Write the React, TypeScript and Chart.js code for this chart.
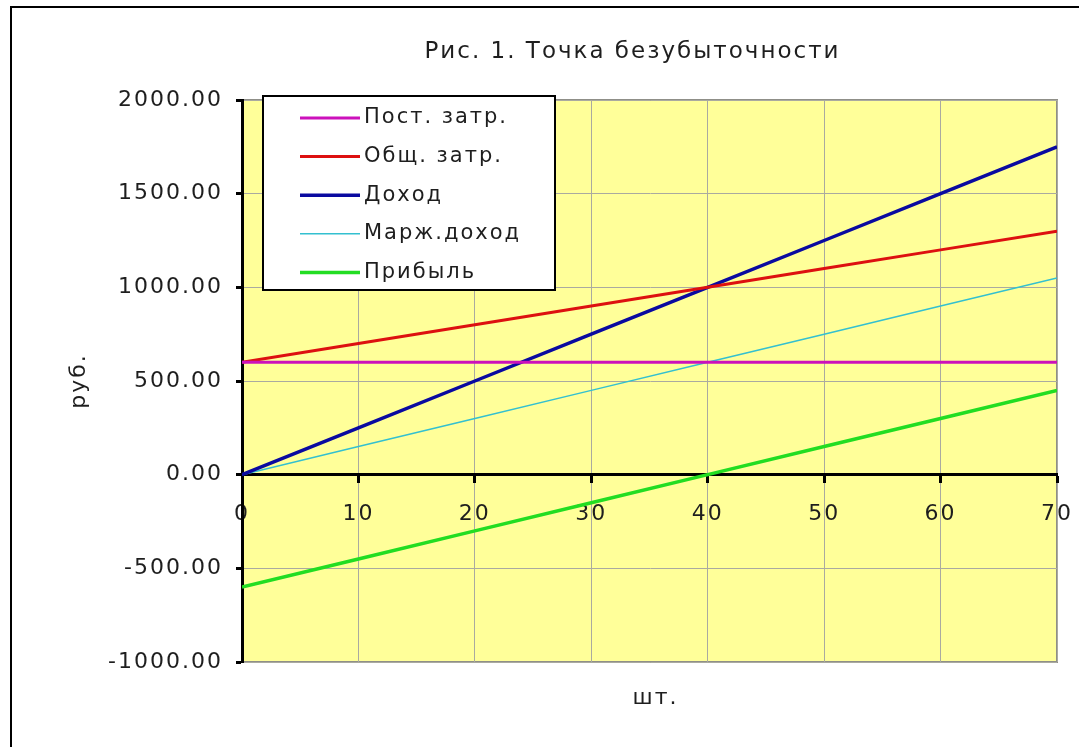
import React, { useEffect, useRef } from 'react';
import { Chart, registerables } from 'chart.js';

Chart.register(...registerables);

// ---- data ----
const units = [0, 10, 20, 30, 40, 50, 60, 70];
const fixedCosts = [600, 600, 600, 600, 600, 600, 600, 600];
const totalCosts = [600, 700, 800, 900, 1000, 1100, 1200, 1300];
const revenue = [0, 250, 500, 750, 1000, 1250, 1500, 1750];
const marginalIncome = [0, 150, 300, 450, 600, 750, 900, 1050];
const profit = [-600, -450, -300, -150, 0, 150, 300, 450];
const seriesNames = ['Пост. затр.', 'Общ. затр.', 'Доход', 'Марж.доход', 'Прибыль'];
const yTickValues = [-1000, -500, 0, 500, 1000, 1500, 2000];
const xTickValues = [0, 10, 20, 30, 40, 50, 60, 70];
const chartTitle = 'Рис. 1. Точка безубыточности';
const xTitle = 'шт.';
const yTitle = 'руб.';

const FONT = '"DejaVu Sans", Verdana, sans-serif';
const TEXT = '#1e1e1e';
const SPACING = '2px';

const seriesStyle = [
  { color: '#cc11bb', width: 3 },
  { color: '#dd1010', width: 3 },
  { color: '#0a0aa0', width: 3.5 },
  { color: '#33c0d0', width: 1.5 },
  { color: '#22dd22', width: 3.5 },
];

const seriesValues = [fixedCosts, totalCosts, revenue, marginalIncome, profit];

const decorPlugin = {
  id: 'decor',
  beforeUpdate(chart: any) {
    chart.ctx.letterSpacing = SPACING;
  },
  beforeDraw(chart: any) {
    const { ctx, chartArea: a } = chart;
    ctx.letterSpacing = SPACING;
    ctx.save();
    ctx.fillStyle = '#ffff99';
    ctx.fillRect(a.left, a.top, a.right - a.left, a.bottom - a.top);
    ctx.strokeStyle = '#8f8f88';
    ctx.lineWidth = 2;
    ctx.strokeRect(a.left, a.top, a.right - a.left, a.bottom - a.top);
    ctx.restore();
  },
  afterDraw(chart: any) {
    const { ctx, chartArea: a } = chart;
    ctx.save();
    ctx.letterSpacing = SPACING;
    ctx.fillStyle = TEXT;
    ctx.textBaseline = 'middle';
    ctx.textAlign = 'center';
    // title
    ctx.font = `23px ${FONT}`;
    ctx.fillText(chartTitle, (a.left + a.right) / 2 - 17, 52);
    // x title
    ctx.font = `22px ${FONT}`;
    ctx.fillText(xTitle, (a.left + a.right) / 2 + 6, 698);

    // legend
    const bx = a.left + 21;
    const by = a.top - 4;
    const bw = 292;
    const bh = 194;
    ctx.fillStyle = '#ffffff';
    ctx.fillRect(bx, by, bw, bh);
    ctx.strokeStyle = '#000000';
    ctx.lineWidth = 2;
    ctx.strokeRect(bx, by, bw, bh);
    ctx.font = `21px ${FONT}`;
    ctx.textAlign = 'left';
    chart.data.datasets.forEach((ds: any, i: number) => {
      const cy = by + 22 + i * 38.6;
      ctx.strokeStyle = ds.borderColor;
      ctx.lineWidth = ds.borderWidth;
      ctx.beginPath();
      ctx.moveTo(bx + 37, cy);
      ctx.lineTo(bx + 97, cy);
      ctx.stroke();
      ctx.fillStyle = TEXT;
      ctx.fillText(ds.label, bx + 101, cy);
    });
    ctx.restore();
  },
};

export default function App() {
  const ref = useRef<HTMLCanvasElement | null>(null);

  useEffect(() => {
    if (!ref.current) return;
    const datasets = seriesNames.map((name, i) => ({
      label: name,
      data: units.map((u, k) => ({ x: u, y: seriesValues[i][k] })),
      borderColor: seriesStyle[i].color,
      backgroundColor: seriesStyle[i].color,
      borderWidth: seriesStyle[i].width,
      pointRadius: 0,
      tension: 0,
      fill: false,
    }));

    const chart = new Chart(ref.current, {
      type: 'line',
      data: { datasets },
      plugins: [decorPlugin],
      options: {
        animation: false,
        responsive: false,
        layout: { padding: { top: 100, bottom: 85, right: 22, left: 0 } },
        plugins: {
          legend: { display: false },
          title: { display: false },
          tooltip: { enabled: false },
        },
        scales: {
          x: {
            type: 'linear',
            min: 0,
            max: 70,
            position: { y: 0 } as any,
            afterBuildTicks: (scale: any) => {
              scale.ticks = xTickValues.map((v) => ({ value: v }));
            },
            afterFit: (scale: any) => {
              scale.paddingLeft = 0;
              scale.paddingRight = 0;
            },
            ticks: {
              color: TEXT,
              font: { family: FONT, size: 22 },
              padding: 19,
              maxRotation: 0,
              autoSkip: false,
            },
            grid: {
              color: '#aaaaa0',
              lineWidth: 1,
              tickColor: '#000000',
              tickWidth: 3,
              tickLength: 7,
            },
            border: { color: '#000000', width: 3 },
          },
          y: {
            type: 'linear',
            min: -1000,
            max: 2000,
            afterBuildTicks: (scale: any) => {
              scale.ticks = yTickValues.map((v) => ({ value: v }));
            },
            afterFit: (scale: any) => {
              scale.width = 242;
            },
            ticks: {
              color: TEXT,
              font: { family: FONT, size: 22 },
              padding: 13,
              callback: (v: any) => Number(v).toFixed(2),
            },
            grid: {
              color: '#aaaaa0',
              lineWidth: 1,
              tickColor: '#000000',
              tickWidth: 3,
              tickLength: 6,
            },
            border: { color: '#000000', width: 3 },
            title: {
              display: true,
              text: yTitle,
              color: TEXT,
              font: { family: FONT, size: 22 },
              padding: { top: 66, bottom: 0 },
            },
          },
        },
      },
    } as any);
    return () => chart.destroy();
  }, []);

  return (
    <div style={{ position: 'absolute', left: 0, top: 0, width: 1079, height: 747, background: '#ffffff', overflow: 'hidden' }}>
      <div style={{ position: 'absolute', left: 10, top: 6, right: -10, bottom: -10, borderLeft: '2px solid #000', borderTop: '2px solid #000' }} />
      <canvas ref={ref} width={1079} height={747} style={{ position: 'absolute', left: 0, top: 0, width: 1079, height: 747 }} />
    </div>
  );
}
